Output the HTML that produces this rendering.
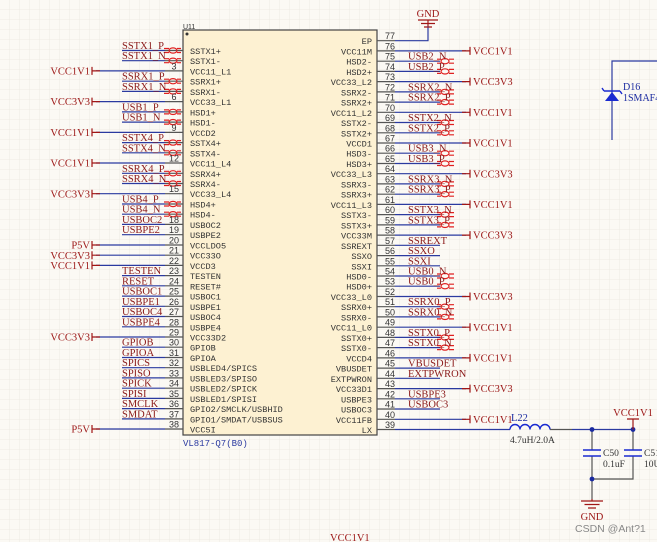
<!DOCTYPE html>
<html><head><meta charset="utf-8"><style>
html,body{margin:0;padding:0;background:#fbf9f4;}
svg{display:block}
.pn{font-family:"Liberation Mono",monospace;font-size:8.6px;fill:#333}
.nl{font-family:"Liberation Serif",serif;font-size:10.5px;fill:#8b1a1a}
.pw{font-family:"Liberation Serif",serif;font-size:10.5px;fill:#9b1515}
.num{font-family:"Liberation Sans",sans-serif;font-size:9px;fill:#333}
.w{stroke:#2b3aa0;stroke-width:1.2;fill:none}
.g{stroke:#555;stroke-width:1.2;fill:none}
.r{stroke:#a01515;stroke-width:1.2;fill:none}
.d{stroke:#e02020;stroke-width:1.2;fill:none}
</style></head><body>
<svg width="657" height="542" viewBox="0 0 657 542" xmlns="http://www.w3.org/2000/svg">
<defs>
<pattern id="grid" width="10" height="10" patternUnits="userSpaceOnUse"><path d="M10 0V10H0" fill="none" stroke="#ebe8e1" stroke-width="0.8"/></pattern>
<g id="dl"><path class="d" d="M-14 -2 L-9 -2 M-14 2 L-9 2"/><ellipse class="d" cx="-5" cy="0" rx="4" ry="2.6"/><path class="d" d="M-1 -2 L3 -2 M-1 2 L3 2"/></g>
</defs>
<rect width="657" height="542" fill="url(#grid)"/>

<!-- chip body -->
<rect x="183" y="30" width="194" height="405" fill="#fdf1d2" stroke="#444" stroke-width="1.2"/>
<text x="183" y="29" class="num" style="font-size:7px">U11</text>
<circle cx="187" cy="34" r="1.5" fill="#333"/>
<text x="183" y="446" style="font-family:'Liberation Mono',monospace;font-size:9px;fill:#2b3aa0">VL817-Q7(B0)</text>

<!-- LEFT PINS -->
<g>
<!-- generic: wire from label start to 183 -->
<path class="w" d="M122 50.5H165 M122 60.7H165 M122 81.2H165 M122 91.4H165 M122 111.9H165 M122 122.1H165 M122 142.6H165 M122 152.8H165 M122 173.3H165 M122 183.5H165 M122 204H165 M122 214.2H165 M122 224.4H165 M122 234.7H165 M122 275.6H165 M122 285.8H165 M122 296.1H165 M122 306.3H165 M122 316.5H165 M122 326.8H165 M122 347.2H165 M122 357.5H165 M122 367.7H165 M122 377.9H165 M122 388.2H165 M122 398.4H165 M122 408.6H165 M122 418.9H165"/>
<path class="w" d="M96 70.9H165 M96 101.6H165 M96 132.4H165 M96 163H165 M96 193.7H165 M96 245H165 M96 255.2H165 M96 265.4H165 M96 337H165 M96 429H165"/>
<path class="g" d="M165 50.5H183 M165 60.7H183 M165 70.9H183 M165 81.2H183 M165 91.4H183 M165 101.6H183 M165 111.9H183 M165 122.1H183 M165 132.4H183 M165 142.6H183 M165 152.8H183 M165 163H183 M165 173.3H183 M165 183.5H183 M165 193.7H183 M165 204H183 M165 214.2H183 M165 224.4H183 M165 234.7H183 M165 245H183 M165 255.2H183 M165 265.4H183 M165 275.6H183 M165 285.8H183 M165 296.1H183 M165 306.3H183 M165 316.5H183 M165 326.8H183 M165 337H183 M165 347.2H183 M165 357.5H183 M165 367.7H183 M165 377.9H183 M165 388.2H183 M165 398.4H183 M165 408.6H183 M165 418.9H183 M165 429H183"/>
<path class="r" d="M92 66.9V74.9 M92 70.9H100 M92 97.6V105.6 M92 101.6H100 M92 128.4V136.4 M92 132.4H100 M92 159V167 M92 163H100 M92 189.7V197.7 M92 193.7H100 M92 241V249 M92 245H100 M92 251.2V259.2 M92 255.2H100 M92 261.4V269.4 M92 265.4H100 M92 333V341 M92 337H100 M92 425V433 M92 429H100"/>
<use href="#dl" x="178" y="50.5"/><use href="#dl" x="178" y="60.7"/><use href="#dl" x="178" y="81.2"/><use href="#dl" x="178" y="91.4"/><use href="#dl" x="178" y="111.9"/><use href="#dl" x="178" y="122.1"/><use href="#dl" x="178" y="142.6"/><use href="#dl" x="178" y="152.8"/><use href="#dl" x="178" y="173.3"/><use href="#dl" x="178" y="183.5"/><use href="#dl" x="178" y="204"/><use href="#dl" x="178" y="214.2"/>
<g class="pw" text-anchor="end">
<text x="90" y="74.5">VCC1V1</text><text x="90" y="105.2">VCC3V3</text><text x="90" y="136">VCC1V1</text><text x="90" y="166.6">VCC1V1</text><text x="90" y="197.3">VCC3V3</text><text x="90" y="248.6">P5V</text><text x="90" y="258.8">VCC3V3</text><text x="90" y="269">VCC1V1</text><text x="90" y="340.6">VCC3V3</text><text x="90" y="432.6">P5V</text>
</g>
<g class="nl">
<text x="122" y="49">SSTX1_P</text><text x="122" y="59.2">SSTX1_N</text><text x="122" y="79.7">SSRX1_P</text><text x="122" y="89.9">SSRX1_N</text><text x="122" y="110.4">USB1_P</text><text x="122" y="120.6">USB1_N</text><text x="122" y="141.1">SSTX4_P</text><text x="122" y="151.3">SSTX4_N</text><text x="122" y="171.8">SSRX4_P</text><text x="122" y="182">SSRX4_N</text><text x="122" y="202.5">USB4_P</text><text x="122" y="212.7">USB4_N</text><text x="122" y="222.9">USBOC2</text><text x="122" y="233.2">USBPE2</text>
<text x="122" y="274.1">TESTEN</text><text x="122" y="284.3">RESET</text><text x="122" y="294.6">USBOC1</text><text x="122" y="304.8">USBPE1</text><text x="122" y="315">USBOC4</text><text x="122" y="325.3">USBPE4</text><text x="122" y="345.7">GPIOB</text><text x="122" y="356">GPIOA</text><text x="122" y="366.2">SPICS</text><text x="122" y="376.4">SPISO</text><text x="122" y="386.7">SPICK</text><text x="122" y="396.9">SPISI</text><text x="122" y="407.1">SMCLK</text><text x="122" y="417.4">SMDAT</text>
</g>
<g class="num" text-anchor="middle">
<text x="174" y="69.4">3</text><text x="174" y="100.1">6</text><text x="174" y="130.9">9</text><text x="174" y="161.5">12</text><text x="174" y="192.2">15</text><text x="174" y="222.9">18</text><text x="174" y="233.2">19</text><text x="174" y="243.5">20</text><text x="174" y="253.7">21</text><text x="174" y="263.9">22</text><text x="174" y="274.1">23</text><text x="174" y="284.3">24</text><text x="174" y="294.6">25</text><text x="174" y="304.8">26</text><text x="174" y="315">27</text><text x="174" y="325.3">28</text><text x="174" y="335.5">29</text><text x="174" y="345.7">30</text><text x="174" y="356">31</text><text x="174" y="366.2">32</text><text x="174" y="376.4">33</text><text x="174" y="386.7">34</text><text x="174" y="396.9">35</text><text x="174" y="407.1">36</text><text x="174" y="417.4">37</text><text x="174" y="427.5">38</text>
</g>
<g class="pn">
<text x="190" y="54">SSTX1+</text><text x="190" y="64.2">SSTX1-</text><text x="190" y="74.4">VCC11_L1</text><text x="190" y="84.7">SSRX1+</text><text x="190" y="94.9">SSRX1-</text><text x="190" y="105.1">VCC33_L1</text><text x="190" y="115.4">HSD1+</text><text x="190" y="125.6">HSD1-</text><text x="190" y="135.9">VCCD2</text><text x="190" y="146.1">SSTX4+</text><text x="190" y="156.3">SSTX4-</text><text x="190" y="166.5">VCC11_L4</text><text x="190" y="176.8">SSRX4+</text><text x="190" y="187">SSRX4-</text><text x="190" y="197.2">VCC33_L4</text><text x="190" y="207.5">HSD4+</text><text x="190" y="217.7">HSD4-</text><text x="190" y="227.9">USBOC2</text><text x="190" y="238.2">USBPE2</text><text x="190" y="248.5">VCCLDO5</text><text x="190" y="258.7">VCC33O</text><text x="190" y="268.9">VCCD3</text><text x="190" y="279.1">TESTEN</text><text x="190" y="289.3">RESET#</text><text x="190" y="299.6">USBOC1</text><text x="190" y="309.8">USBPE1</text><text x="190" y="320">USBOC4</text><text x="190" y="330.3">USBPE4</text><text x="190" y="340.5">VCC33D2</text><text x="190" y="350.7">GPIOB</text><text x="190" y="361">GPIOA</text><text x="190" y="371.2">USBLED4/SPICS</text><text x="190" y="381.4">USBLED3/SPISO</text><text x="190" y="391.7">USBLED2/SPICK</text><text x="190" y="401.9">USBLED1/SPISI</text><text x="190" y="412.1">GPIO2/SMCLK/USBHID</text><text x="190" y="422.4">GPIO1/SMDAT/USBSUS</text><text x="190" y="432.5">VCC5I</text>
</g>
</g>

<!-- RIGHT PINS -->
<g>
<path class="g" d="M377 40.7H395 M377 50.9H395 M377 61.2H395 M377 71.4H395 M377 81.6H395 M377 91.9H395 M377 102.1H395 M377 112.3H395 M377 122.5H395 M377 132.8H395 M377 143H395 M377 153.2H395 M377 163.5H395 M377 173.7H395 M377 183.9H395 M377 194.2H395 M377 204.4H395 M377 214.6H395 M377 224.9H395 M377 235.1H395 M377 245.3H395 M377 255.6H395 M377 265.8H395 M377 276H395 M377 286.2H395 M377 296.5H395 M377 306.7H395 M377 316.9H395 M377 327.2H395 M377 337.4H395 M377 347.6H395 M377 357.9H395 M377 368.1H395 M377 378.3H395 M377 388.6H395 M377 398.8H395 M377 409H395 M377 419.3H395 M377 429.5H395"/>
<path class="w" d="M395 40.7H428V26"/>
<path class="w" d="M395 50.9H466 M395 81.6H466 M395 112.3H466 M395 143H466 M395 173.7H466 M395 204.4H466 M395 235.1H466 M395 296.5H466 M395 327.2H466 M395 357.9H466 M395 388.6H466 M395 419.3H466"/>
<path class="w" d="M395 61.2H440 M395 71.4H440 M395 91.9H440 M395 102.1H440 M395 122.5H440 M395 132.8H440 M395 153.2H440 M395 163.5H440 M395 183.9H440 M395 194.2H440 M395 214.6H440 M395 224.9H440 M395 245.3H440 M395 255.6H440 M395 265.8H440 M395 276H440 M395 286.2H440 M395 306.7H440 M395 316.9H440 M395 337.4H440 M395 347.6H440 M395 368.1H440 M395 378.3H440 M395 398.8H440 M395 409H440"/>
<path class="r" d="M470 46.9V54.9 M462 50.9H470 M470 77.6V85.6 M462 81.6H470 M470 108.3V116.3 M462 112.3H470 M470 139V147 M462 143H470 M470 169.7V177.7 M462 173.7H470 M470 200.4V208.4 M462 204.4H470 M470 231.1V239.1 M462 235.1H470 M470 292.5V300.5 M462 296.5H470 M470 323.2V331.2 M462 327.2H470 M470 353.9V361.9 M462 357.9H470 M470 384.6V392.6 M462 388.6H470 M470 415.3V423.3 M462 419.3H470"/>
<g transform="translate(440,0) scale(-1,1) translate(-440,0)">
<use href="#dl" x="440" y="61.2"/><use href="#dl" x="440" y="71.4"/><use href="#dl" x="440" y="91.9"/><use href="#dl" x="440" y="102.1"/><use href="#dl" x="440" y="122.5"/><use href="#dl" x="440" y="132.8"/><use href="#dl" x="440" y="153.2"/><use href="#dl" x="440" y="163.5"/><use href="#dl" x="440" y="183.9"/><use href="#dl" x="440" y="194.2"/><use href="#dl" x="440" y="214.6"/><use href="#dl" x="440" y="224.9"/><use href="#dl" x="440" y="276"/><use href="#dl" x="440" y="286.2"/><use href="#dl" x="440" y="306.7"/><use href="#dl" x="440" y="316.9"/><use href="#dl" x="440" y="337.4"/><use href="#dl" x="440" y="347.6"/>
</g>
<g class="pw">
<text x="473" y="54.5">VCC1V1</text><text x="473" y="85.2">VCC3V3</text><text x="473" y="115.9">VCC1V1</text><text x="473" y="146.6">VCC1V1</text><text x="473" y="177.3">VCC3V3</text><text x="473" y="208">VCC1V1</text><text x="473" y="238.7">VCC3V3</text><text x="473" y="300.1">VCC3V3</text><text x="473" y="330.8">VCC1V1</text><text x="473" y="361.5">VCC1V1</text><text x="473" y="392.2">VCC3V3</text><text x="473" y="422.9">VCC1V1</text>
</g>
<g class="nl">
<text x="408" y="59.7">USB2_N</text><text x="408" y="69.9">USB2_P</text><text x="408" y="90.4">SSRX2_N</text><text x="408" y="100.6">SSRX2_P</text><text x="408" y="121">SSTX2_N</text><text x="408" y="131.3">SSTX2_P</text><text x="408" y="151.7">USB3_N</text><text x="408" y="162">USB3_P</text><text x="408" y="182.4">SSRX3_N</text><text x="408" y="192.7">SSRX3_P</text><text x="408" y="213.1">SSTX3_N</text><text x="408" y="223.4">SSTX3_P</text><text x="408" y="243.8">SSREXT</text><text x="408" y="254.1">SSXO</text><text x="408" y="264.3">SSXI</text><text x="408" y="274.5">USB0_N</text><text x="408" y="284.7">USB0_P</text><text x="408" y="305.2">SSRX0_P</text><text x="408" y="315.4">SSRX0_N</text><text x="408" y="335.9">SSTX0_P</text><text x="408" y="346.1">SSTX0_N</text><text x="408" y="366.6">VBUSDET</text><text x="408" y="376.8">EXTPWRON</text><text x="408" y="397.3">USBPE3</text><text x="408" y="407.5">USBOC3</text>
</g>
<g class="num">
<text x="385" y="39.2">77</text><text x="385" y="49.4">76</text><text x="385" y="59.7">75</text><text x="385" y="69.9">74</text><text x="385" y="80.1">73</text><text x="385" y="90.4">72</text><text x="385" y="100.6">71</text><text x="385" y="110.8">70</text><text x="385" y="121">69</text><text x="385" y="131.3">68</text><text x="385" y="141.5">67</text><text x="385" y="151.7">66</text><text x="385" y="162">65</text><text x="385" y="172.2">64</text><text x="385" y="182.4">63</text><text x="385" y="192.7">62</text><text x="385" y="202.9">61</text><text x="385" y="213.1">60</text><text x="385" y="223.4">59</text><text x="385" y="233.6">58</text><text x="385" y="243.8">57</text><text x="385" y="254.1">56</text><text x="385" y="264.3">55</text><text x="385" y="274.5">54</text><text x="385" y="284.7">53</text><text x="385" y="295">52</text><text x="385" y="305.2">51</text><text x="385" y="315.4">50</text><text x="385" y="325.7">49</text><text x="385" y="335.9">48</text><text x="385" y="346.1">47</text><text x="385" y="356.4">46</text><text x="385" y="366.6">45</text><text x="385" y="376.8">44</text><text x="385" y="387.1">43</text><text x="385" y="397.3">42</text><text x="385" y="407.5">41</text><text x="385" y="417.8">40</text><text x="385" y="428">39</text>
</g>
<g class="pn" text-anchor="end">
<text x="372" y="44.2">EP</text><text x="372" y="54.4">VCC11M</text><text x="372" y="64.7">HSD2-</text><text x="372" y="74.9">HSD2+</text><text x="372" y="85.1">VCC33_L2</text><text x="372" y="95.4">SSRX2-</text><text x="372" y="105.6">SSRX2+</text><text x="372" y="115.8">VCC11_L2</text><text x="372" y="126">SSTX2-</text><text x="372" y="136.3">SSTX2+</text><text x="372" y="146.5">VCCD1</text><text x="372" y="156.7">HSD3-</text><text x="372" y="167">HSD3+</text><text x="372" y="177.2">VCC33_L3</text><text x="372" y="187.4">SSRX3-</text><text x="372" y="197.7">SSRX3+</text><text x="372" y="207.9">VCC11_L3</text><text x="372" y="218.1">SSTX3-</text><text x="372" y="228.4">SSTX3+</text><text x="372" y="238.6">VCC33M</text><text x="372" y="248.8">SSREXT</text><text x="372" y="259.1">SSXO</text><text x="372" y="269.3">SSXI</text><text x="372" y="279.5">HSD0-</text><text x="372" y="289.7">HSD0+</text><text x="372" y="300">VCC33_L0</text><text x="372" y="310.2">SSRX0+</text><text x="372" y="320.4">SSRX0-</text><text x="372" y="330.7">VCC11_L0</text><text x="372" y="340.9">SSTX0+</text><text x="372" y="351.1">SSTX0-</text><text x="372" y="361.4">VCCD4</text><text x="372" y="371.6">VBUSDET</text><text x="372" y="381.8">EXTPWRON</text><text x="372" y="392.1">VCC33D1</text><text x="372" y="402.3">USBPE3</text><text x="372" y="412.5">USBOC3</text><text x="372" y="422.8">VCC11FB</text><text x="372" y="433">LX</text>
</g>
</g>

<!-- top GND -->
<path class="r" d="M428 26V20 M418 20H438 M421 23.5H435 M424 27H432"/>
<text x="428" y="17" class="pw" text-anchor="middle">GND</text>

<!-- D16 -->
<path class="w" d="M612 140V61H657"/>
<path d="M605 101H619L612 92Z" fill="#1a2ad0"/>
<path d="M604 91H620M604 91L602 88M620 91L622 94" stroke="#1a2ad0" stroke-width="1.4" fill="none"/>
<text x="623" y="90" style="font-family:'Liberation Serif',serif;font-size:10px;fill:#1a2aa0">D16</text>
<text x="623" y="101" style="font-family:'Liberation Serif',serif;font-size:10px;fill:#1a2aa0">1SMAF4</text>

<!-- inductor and caps -->
<path class="w" d="M395 429.5H510"/>
<path d="M510 429.5a5 5 0 0 1 10 0a5 5 0 0 1 10 0a5 5 0 0 1 10 0a5 5 0 0 1 10 0" stroke="#1a2ad0" stroke-width="1.4" fill="none"/>
<path class="g" d="M550 429.5H572"/><path class="w" d="M572 429.5H633"/>
<text x="511" y="421" class="nl" style="fill:#1a2aa0">L22</text>
<text x="510" y="443" class="nl" style="fill:#333;font-size:9.5px">4.7uH/2.0A</text>
<path class="g" d="M592 429.5V450 M592 456V499 M633 429.5V450 M633 456V479H592"/>
<path d="M583 450H601 M583 456H601 M624 450H642 M624 456H642" stroke="#1a2ad0" stroke-width="1.6"/>
<circle cx="592" cy="429.5" r="2.4" fill="#1a2aa0"/><circle cx="633" cy="429.5" r="2.4" fill="#1a2aa0"/><circle cx="592" cy="479" r="2.4" fill="#1a2aa0"/>
<path class="r" d="M633 429.5V419 M627 419H639"/>
<text x="633" y="416" class="pw" text-anchor="middle">VCC1V1</text>
<text x="603" y="456" class="nl" style="fill:#333;font-size:9.5px">C50</text><text x="603" y="467" class="nl" style="fill:#333;font-size:9.5px">0.1uF</text>
<text x="644" y="456" class="nl" style="fill:#333;font-size:9.5px">C51</text><text x="644" y="467" class="nl" style="fill:#333;font-size:9.5px">10U</text>
<path class="r" d="M592 499V501 M581 501H603 M584.5 504.5H599.5 M588 508H596"/>
<text x="592" y="520" class="pw" text-anchor="middle">GND</text>
<text x="575" y="532" style="font-family:'Liberation Sans',sans-serif;font-size:10.5px;fill:#888">CSDN @Ant?1</text>

<text x="330" y="541" class="pw">VCC1V1</text>
</svg>
</body></html>
